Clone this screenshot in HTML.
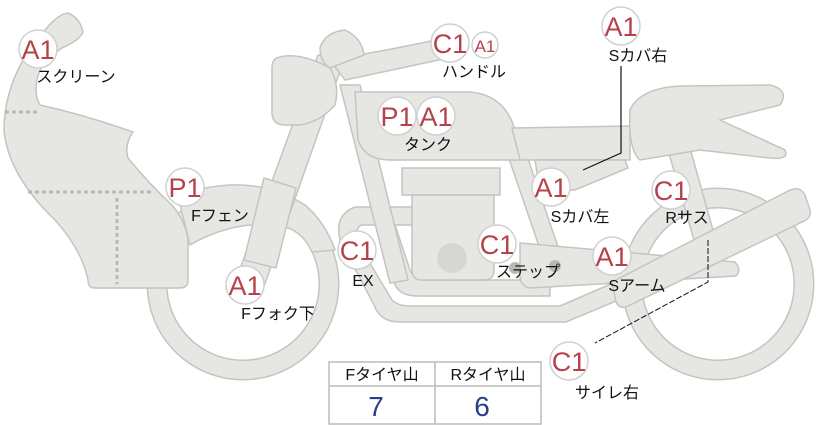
<!DOCTYPE html>
<html><head><meta charset="utf-8"><style>
html,body{margin:0;padding:0;background:#fff;}
svg{display:block;}
.s{fill:#e6e6e3;stroke:#c4c4c2;stroke-width:1.5;}
.t{font-family:"Liberation Sans","Noto Sans CJK JP",sans-serif;font-size:16px;fill:#111;text-anchor:middle;}
.c{fill:#fff;stroke:#d0d0d0;stroke-width:1.5;}
.l{font-family:"Liberation Sans",sans-serif;font-size:27px;fill:#b5424a;text-anchor:middle;}
</style></head><body>
<svg width="822" height="425" viewBox="0 0 822 425" xmlns="http://www.w3.org/2000/svg">
<circle cx="243" cy="284" r="86" fill="none" stroke="#c4c4c2" stroke-width="21"/>
<circle cx="243" cy="284" r="86" fill="none" stroke="#e6e6e3" stroke-width="18"/>
<circle cx="718" cy="284" r="86" fill="none" stroke="#c4c4c2" stroke-width="21"/>
<circle cx="718" cy="284" r="86" fill="none" stroke="#e6e6e3" stroke-width="18"/>
<path class="s" d="M178,196 Q250,170 305,205 Q325,222 335,250 L312,252 Q300,225 270,225 Q230,222 190,245 Z"/>
<path class="s" d="M45,30 Q58,14 68,13 Q80,18 83,32 Q80,40 62,48 Q40,62 37,80 Q34,95 40,105 Q85,115 133,132 Q124,145 128,158 Q150,185 172,205 Q186,222 188,240 L188,280 Q188,288 180,288 L95,288 Q88,288 88,280 Q82,250 55,220 Q8,175 4,130 Q4,95 22,62 Z"/>
<g stroke="#b8b8b8" stroke-width="3" stroke-dasharray="4,3"><line x1="5" y1="112" x2="40" y2="112"/><line x1="28" y1="192" x2="152" y2="192"/><line x1="117" y1="198" x2="117" y2="284"/></g>
<path class="s" d="M355,207 L420,207 L420,225 L362,225 Q352,228 362,250 L392,300 Q398,306 410,306 L560,306 L620,280 L628,296 L566,322 L400,322 Q380,322 374,305 L340,240 Q334,215 355,207 Z"/>
<path class="s" d="M378,225 L395,225 L410,270 Q414,280 425,280 L550,280 L550,296 L418,296 Q398,296 394,282 Z"/>
<path class="s" d="M340,85 L360,85 L408,280 L390,283 Z"/>
<path class="s" d="M506,150 L525,150 L570,282 L552,284 Z"/>
<path class="s" d="M520,243 L735,262 Q742,270 736,276 L530,288 Q520,286 520,275 Z"/>
<path class="s" d="M668,150 L690,148 L718,248 L698,254 Z"/>
<path class="s" d="M612,282 L790,190 Q800,186 805,195 L810,210 Q812,218 802,222 L628,306 Q620,310 616,302 Z"/>
<path class="s" d="M236,280 L318,55 L344,60 L262,292 Z"/>
<path class="s" d="M264,178 L296,188 L276,268 L244,260 Z"/>
<path class="s" d="M330,60 Q390,50 445,38 Q456,36 458,46 Q460,56 448,58 L345,80 Z"/>
<path class="s" d="M280,57 Q300,52 330,68 Q340,85 335,105 Q320,122 300,125 L285,125 Q272,125 272,112 L272,68 Q272,58 280,57 Z"/>
<path class="s" d="M320,48 Q325,32 345,30 Q362,38 364,55 Q345,62 330,68 Q320,62 320,48 Z"/>
<path class="s" d="M355,92 Q380,92 470,92 Q505,95 515,130 L520,160 L390,160 Q365,160 358,140 Z"/>
<path class="s" d="M512,128 L630,126 L630,160 L520,160 Z"/>
<path class="s" d="M630,110 Q640,88 680,86 L770,85 Q790,90 780,105 L720,120 L785,150 Q790,160 770,158 L700,150 L640,160 Q628,150 630,110 Z"/>
<path class="s" d="M535,160 L625,160 L628,168 L575,190 L540,192 Z"/>
<rect class="s" x="402" y="168" width="98" height="27"/>
<path class="s" d="M412,195 L494,195 L494,270 Q494,280 484,280 L422,280 Q412,280 412,270 Z"/>
<circle cx="452" cy="258" r="15" fill="#d6d6d4"/>
<circle cx="515" cy="268" r="6" fill="#b8b8b6"/>
<circle cx="555" cy="266" r="6" fill="#b8b8b6"/>
<path d="M621,66 L621,153 L583,170" fill="none" stroke="#111" stroke-width="1.2"/>
<path d="M708,240 L708,282 L595,343" fill="none" stroke="#111" stroke-width="1" stroke-dasharray="6,2"/>
<rect x="329" y="362" width="212" height="62" fill="#fff" stroke="#bbb" stroke-width="1.5"/>
<line x1="329" y1="386" x2="541" y2="386" stroke="#bbb" stroke-width="1.5"/>
<line x1="435" y1="362" x2="435" y2="424" stroke="#bbb" stroke-width="1.5"/>
<text class="t" x="382" y="380">Fタイヤ山</text>
<text class="t" x="488" y="380">Rタイヤ山</text>
<text x="376" y="416" font-family="Liberation Sans,sans-serif" font-size="28" fill="#2b3f88" text-anchor="middle">7</text>
<text x="482" y="416" font-family="Liberation Sans,sans-serif" font-size="28" fill="#2b3f88" text-anchor="middle">6</text>
<g>
<circle class="c" cx="38" cy="49" r="19"/><text class="l" x="38" y="59">A1</text>
<circle class="c" cx="450" cy="43" r="19"/><text class="l" x="450" y="53">C1</text>
<circle class="c" cx="485" cy="45" r="13"/><text class="l" x="485" y="52" style="font-size:17px">A1</text>
<circle class="c" cx="621" cy="26" r="19"/><text class="l" x="621" y="36">A1</text>
<circle class="c" cx="397" cy="116" r="19"/><text class="l" x="397" y="126">P1</text>
<circle class="c" cx="436" cy="116" r="19"/><text class="l" x="436" y="126">A1</text>
<circle class="c" cx="551" cy="187" r="19"/><text class="l" x="551" y="197">A1</text>
<circle class="c" cx="671" cy="190" r="19"/><text class="l" x="671" y="200">C1</text>
<circle class="c" cx="185" cy="187" r="19"/><text class="l" x="185" y="197">P1</text>
<circle class="c" cx="357" cy="250" r="19"/><text class="l" x="357" y="260">C1</text>
<circle class="c" cx="497" cy="244" r="19"/><text class="l" x="497" y="254">C1</text>
<circle class="c" cx="612" cy="256" r="19"/><text class="l" x="612" y="266">A1</text>
<circle class="c" cx="245" cy="285" r="19"/><text class="l" x="245" y="295">A1</text>
<circle class="c" cx="569" cy="361" r="19"/><text class="l" x="569" y="371">C1</text>
</g>
<text class="t" x="76" y="82">スクリーン</text>
<text class="t" x="474" y="77">ハンドル</text>
<text class="t" x="638" y="61">Sカバ右</text>
<text class="t" x="428" y="150">タンク</text>
<text class="t" x="580" y="222">Sカバ左</text>
<text class="t" x="687" y="223">Rサス</text>
<text class="t" x="220" y="221">Fフェン</text>
<text class="t" x="363" y="286">EX</text>
<text class="t" x="528" y="277">ステップ</text>
<text class="t" x="637" y="291">Sアーム</text>
<text class="t" x="278" y="319">Fフォク下</text>
<text class="t" x="607" y="398">サイレ右</text>
</svg>
</body></html>
